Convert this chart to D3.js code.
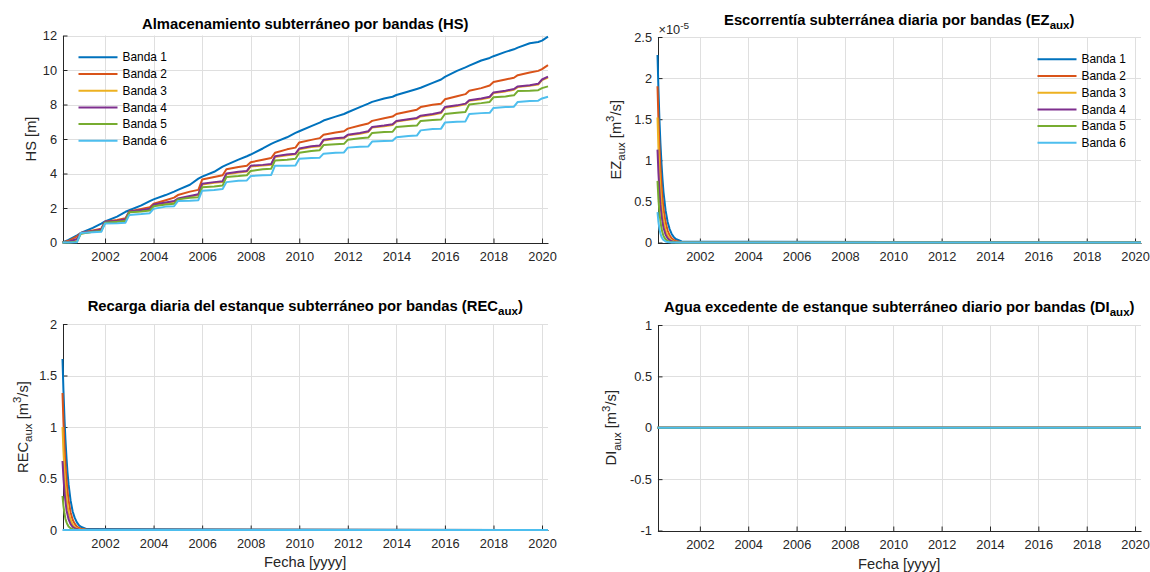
<!DOCTYPE html>
<html>
<head>
<meta charset="utf-8">
<script src="https://cdn.jsdelivr.net/npm/d3@7"></script>
<style>
  body { margin: 0; background: #fff; }
  svg { font-family: "Liberation Sans", Arial, Helvetica, sans-serif; }
</style>
</head>
<body>
<svg id="fig" width="1150" height="572"></svg>
<script>
// ---------- data ----------
const bandNames  = ["Banda 1", "Banda 2", "Banda 3", "Banda 4", "Banda 5", "Banda 6"];
const bandColors = ["#0072BD", "#D95319", "#EDB120", "#7E2F8E", "#77AC30", "#4DBEEE"];
const yearTicks  = [2002, 2004, 2006, 2008, 2010, 2012, 2014, 2016, 2018, 2020];
const periodStart = "2000-04-01";
const periodEnd   = "2020-03-31";

// Groundwater storage HS [m], sampled 1 Jan / 1 Jul / 5 Nov of each year
const hsDates = [
  "2000-04-01","2000-07-01","2000-11-05",
  "2001-01-01","2001-07-01","2001-11-05",
  "2002-01-01","2002-07-01","2002-11-05",
  "2003-01-01","2003-07-01","2003-11-05",
  "2004-01-01","2004-07-01","2004-11-05",
  "2005-01-01","2005-07-01","2005-11-05",
  "2006-01-01","2006-07-01","2006-11-05",
  "2007-01-01","2007-07-01","2007-11-05",
  "2008-01-01","2008-07-01","2008-11-05",
  "2009-01-01","2009-07-01","2009-11-05",
  "2010-01-01","2010-07-01","2010-11-05",
  "2011-01-01","2011-07-01","2011-11-05",
  "2012-01-01","2012-07-01","2012-11-05",
  "2013-01-01","2013-07-01","2013-11-05",
  "2014-01-01","2014-07-01","2014-11-05",
  "2015-01-01","2015-07-01","2015-11-05",
  "2016-01-01","2016-07-01","2016-11-05",
  "2017-01-01","2017-07-01","2017-11-05",
  "2018-01-01","2018-07-01","2018-11-05",
  "2019-01-01","2019-07-01","2019-11-05",
  "2020-01-01","2020-03-31"
];
const hsBanda1 = [0,0.15,0.42, 0.55,0.85,1.1, 1.22,1.5,1.78, 1.87,2.15,2.4, 2.5,2.75,2.95,
  3.05,3.35,3.7, 3.82,4.1,4.4, 4.5,4.8,5.0, 5.1,5.45,5.72, 5.82,6.1,6.35, 6.45,6.75,6.95,
  7.07,7.3,7.45, 7.55,7.85,8.05, 8.15,8.35,8.45, 8.55,8.75,8.9, 8.97,9.25,9.45, 9.6,9.95,10.15,
  10.25,10.55,10.7, 10.8,11.05,11.2, 11.3,11.55,11.62, 11.7,11.93];
const hsBanda2 = [0,0.1,0.35, 0.55,0.7,0.8, 1.2,1.3,1.4, 1.8,1.95,2.05, 2.25,2.45,2.6,
  2.75,2.95,3.05, 3.65,3.8,3.9, 4.25,4.38,4.45, 4.65,4.8,4.9, 5.2,5.4,5.5, 5.8,5.95,6.05,
  6.25,6.38,6.45, 6.6,6.78,6.9, 7.05,7.2,7.3, 7.45,7.6,7.7, 7.85,7.98,8.05, 8.3,8.48,8.6,
  8.8,8.95,9.1, 9.3,9.45,9.55, 9.7,9.85,9.95, 10.05,10.28];
const hsBanda3 = [0,0.04,0.18, 0.52,0.62,0.72, 1.16,1.21,1.31, 1.76,1.84,1.91, 2.16,2.28,2.36,
  2.51,2.66,2.76, 3.36,3.46,3.51, 3.96,4.06,4.11, 4.41,4.46,4.51, 4.96,5.06,5.11, 5.41,5.54,5.58,
  5.91,6.01,6.04, 6.21,6.31,6.41, 6.66,6.74,6.81, 7.01,7.11,7.18, 7.31,7.41,7.51, 7.81,7.91,8.01,
  8.21,8.31,8.41, 8.66,8.76,8.86, 9.01,9.08,9.16, 9.41,9.56];
const hsBanda4 = [0,0.05,0.2, 0.55,0.65,0.75, 1.2,1.25,1.35, 1.8,1.88,1.95, 2.2,2.32,2.4,
  2.55,2.7,2.8, 3.4,3.5,3.55, 4.0,4.1,4.15, 4.45,4.5,4.55, 5.0,5.1,5.15, 5.45,5.58,5.62,
  5.95,6.05,6.08, 6.25,6.35,6.45, 6.7,6.78,6.85, 7.05,7.15,7.22, 7.35,7.45,7.55, 7.85,7.95,8.05,
  8.25,8.35,8.45, 8.7,8.8,8.9, 9.05,9.12,9.2, 9.45,9.62];
const hsBanda5 = [0,0,0.05, 0.5,0.62,0.66, 1.15,1.2,1.25, 1.75,1.8,1.85, 2.1,2.2,2.25,
  2.5,2.6,2.62, 3.2,3.25,3.3, 3.8,3.85,3.9, 4.15,4.25,4.28, 4.75,4.8,4.85, 5.2,5.3,5.35,
  5.65,5.7,5.72, 5.95,6.05,6.08, 6.35,6.4,6.42, 6.7,6.75,6.78, 7.05,7.1,7.13, 7.45,7.52,7.57,
  8.0,8.08,8.15, 8.42,8.47,8.53, 8.78,8.8,8.83, 8.95,9.05];
const hsBanda6 = [0,0,0.02, 0.55,0.6,0.62, 1.1,1.12,1.15, 1.6,1.65,1.7, 1.95,2.08,2.1,
  2.4,2.42,2.45, 3.0,3.05,3.1, 3.5,3.58,3.6, 3.85,3.9,3.92, 4.45,4.45,4.47, 4.85,4.9,4.92,
  5.15,5.2,5.22, 5.5,5.55,5.57, 5.85,5.88,5.9, 6.1,6.18,6.2, 6.5,6.58,6.6, 6.95,7.0,7.02,
  7.45,7.5,7.52, 7.8,7.85,7.87, 8.15,8.2,8.22, 8.35,8.45];

// Daily groundwater runoff EZaux and recharge RECaux (start-up transient, then zero)
const flowDates = ["2000-04-01","2000-04-15","2000-05-01","2000-05-15","2000-06-01","2000-06-15",
  "2000-07-01","2000-08-01","2000-09-01","2000-10-01","2000-11-01","2000-12-01",
  "2001-01-01","2001-04-01","2020-03-31"];
const ezExponent = -5;   // EZ values below are in units of 1e-5 m3/s
const ezBanda1 = [2.28,1.87,1.48,1.21,0.95,0.775,0.61,0.39,0.25,0.164,0.104,0.068,0.043,0.012,0];
const ezBanda2 = [1.9,1.5,1.15,0.91,0.68,0.54,0.41,0.245,0.145,0.088,0.052,0.032,0.019,0.004,0];
const ezBanda3 = [1.52,1.16,0.86,0.66,0.47,0.36,0.265,0.147,0.081,0.046,0.025,0.014,0.008,0.001,0];
const ezBanda4 = [1.13,0.85,0.62,0.46,0.33,0.25,0.18,0.095,0.051,0.028,0.015,0.008,0.004,0.001,0];
const ezBanda5 = [0.75,0.53,0.36,0.26,0.17,0.12,0.08,0.038,0.018,0.009,0.004,0.002,0.001,0,0];
const ezBanda6 = [0.37,0.25,0.16,0.11,0.068,0.047,0.03,0.013,0.005,0.002,0.001,0,0,0,0];

const recBanda1 = [1.66,1.36,1.08,0.88,0.69,0.56,0.445,0.285,0.18,0.12,0.076,0.049,0.032,0.009,0];
const recBanda2 = [1.33,1.05,0.8,0.64,0.48,0.38,0.29,0.17,0.1,0.062,0.036,0.022,0.013,0.003,0];
const recBanda3 = [1.0,0.77,0.56,0.43,0.31,0.24,0.17,0.097,0.053,0.03,0.017,0.009,0.005,0.001,0];
const recBanda4 = [0.67,0.51,0.37,0.28,0.19,0.15,0.105,0.056,0.03,0.017,0.009,0.005,0.003,0,0];
const recBanda5 = [0.33,0.235,0.16,0.11,0.074,0.053,0.035,0.017,0.008,0.004,0.002,0.001,0,0,0];
const recBanda6 = [0,0,0,0,0,0,0,0,0,0,0,0,0,0,0];

// Daily excess water DIaux (zero over the whole period)
const diDates  = ["2000-04-01","2020-03-31"];
const diBanda1 = [0,0], diBanda2 = [0,0], diBanda3 = [0,0];
const diBanda4 = [0,0], diBanda5 = [0,0], diBanda6 = [0,0];

const hsTicks  = [0, 2, 4, 6, 8, 10, 12];
const ezTicks  = [0, 0.5, 1, 1.5, 2, 2.5];
const recTicks = [0, 0.5, 1, 1.5, 2];
const diTicks  = [-1, -0.5, 0, 0.5, 1];

// ---------- drawing ----------
const parse = d3.timeParse("%Y-%m-%d");
const svg = d3.select("#fig");
const AX = "#262626", GRID = "#dfdfdf";
const TICK_FS = 12.8, LABEL_FS = 14.7, TITLE_FS = 14.8, LEG_FS = 11.9;

function rich(textSel, parts, size) {
  let shift = 0;
  parts.forEach(([s, kind]) => {
    const target = kind === "sub" ? 0.32 * size : kind === "sup" ? -0.42 * size : 0;
    const t = textSel.append("tspan").text(s).attr("dy", target - shift);
    if (kind) t.attr("font-size", size * 0.78);
    shift = target;
  });
}

function drawPanel(p) {
  const g = svg.append("g");
  const x = d3.scaleTime().domain([parse(periodStart), parse(periodEnd)]).range([p.left, p.right]);
  const y = d3.scaleLinear().domain(p.yDomain).range([p.bottom, p.top]);
  const xTickDates = yearTicks.map(yr => new Date(yr, 0, 1));

  // grid
  const grid = g.append("g").attr("stroke", GRID).attr("stroke-width", 1);
  grid.selectAll("line.v").data(xTickDates).join("line")
    .attr("x1", d => Math.round(x(d)) + 0.5).attr("x2", d => Math.round(x(d)) + 0.5)
    .attr("y1", p.top).attr("y2", p.bottom);
  grid.selectAll("line.h").data(p.yTicks).join("line")
    .attr("y1", d => Math.round(y(d)) + 0.5).attr("y2", d => Math.round(y(d)) + 0.5)
    .attr("x1", p.left).attr("x2", p.right);

  // axes (left and bottom only, ticks pointing inward)
  const xAxis = d3.axisBottom(x).tickValues(xTickDates).tickFormat(d3.timeFormat("%Y"))
    .tickSizeInner(-4.5).tickSizeOuter(0).tickPadding(9);
  const yAxis = d3.axisLeft(y).tickValues(p.yTicks).tickFormat(p.yFmt)
    .tickSizeInner(-4.5).tickSizeOuter(0).tickPadding(6);
  const gx = g.append("g").attr("transform", `translate(0,${Math.round(p.bottom)})`).call(xAxis);
  const gy = g.append("g").attr("transform", `translate(${Math.round(p.left)},0)`).call(yAxis);
  [gx, gy].forEach(a => {
    a.attr("font-family", null).attr("font-size", TICK_FS);
    a.select(".domain").attr("stroke", AX);
    a.selectAll(".tick line").attr("stroke", AX);
    a.selectAll(".tick text").attr("fill", AX);
  });

  // series
  const line = d3.line().x(d => x(d[0])).y(d => y(d[1]));
  const dates = p.dates.map(parse);
  p.series.forEach((vals, i) => {
    g.append("path")
      .datum(vals.map((v, k) => [dates[k], v]))
      .attr("fill", "none")
      .attr("stroke", bandColors[i])
      .attr("stroke-width", 2)
      .attr("stroke-linejoin", "round")
      .attr("d", line);
  });

  // title
  const cx = (p.left + p.right) / 2;
  const title = g.append("text").attr("x", cx).attr("y", p.titleY)
    .attr("text-anchor", "middle").attr("font-weight", "bold")
    .attr("font-size", TITLE_FS).attr("fill", "#000");
  rich(title, p.title, TITLE_FS);

  // y label
  const yl = g.append("text")
    .attr("transform", `translate(${p.yLabelX},${(p.top + p.bottom) / 2}) rotate(-90)`)
    .attr("text-anchor", "middle").attr("font-size", LABEL_FS).attr("fill", AX);
  rich(yl, p.yLabel, LABEL_FS);

  // x label
  if (p.xLabel) {
    g.append("text").attr("x", cx).attr("y", p.xLabelY)
      .attr("text-anchor", "middle").attr("font-size", LABEL_FS).attr("fill", AX)
      .text(p.xLabel);
  }

  // exponent marker
  if (p.exponent !== undefined) {
    const ex = g.append("text").attr("x", p.left + 1).attr("y", p.top - 3)
      .attr("font-size", TICK_FS).attr("fill", AX);
    rich(ex, [["\u00d710", null], [String(p.exponent), "sup"]], TICK_FS);
  }

  // legend
  if (p.legend) {
    const lg = g.append("g");
    bandNames.forEach((name, i) => {
      const yy = p.legend.y + i * 16.7;
      lg.append("line").attr("x1", p.legend.x).attr("x2", p.legend.x + 39)
        .attr("y1", yy).attr("y2", yy)
        .attr("stroke", bandColors[i]).attr("stroke-width", 2);
      lg.append("text").attr("x", p.legend.x + 44).attr("y", yy).attr("dy", "0.35em")
        .attr("font-size", LEG_FS).attr("fill", "#000").text(name);
    });
  }
}

const fmtPlain = d => String(d);

drawPanel({
  left: 62.5, right: 548, top: 35.5, bottom: 242.5,
  yDomain: [0, 12], yTicks: hsTicks, yFmt: fmtPlain,
  dates: hsDates, series: [hsBanda1, hsBanda2, hsBanda3, hsBanda4, hsBanda5, hsBanda6],
  title: [["Almacenamiento subterráneo por bandas (HS)", null]], titleY: 28.5,
  yLabel: [["HS [m]", null]], yLabelX: 35.5,
  legend: { x: 78.5, y: 57.3 }
});

drawPanel({
  left: 657.5, right: 1141, top: 37, bottom: 242.5,
  yDomain: [0, 2.5], yTicks: ezTicks, yFmt: fmtPlain, exponent: ezExponent,
  dates: flowDates, series: [ezBanda1, ezBanda2, ezBanda3, ezBanda4, ezBanda5, ezBanda6],
  title: [["Escorrentía subterránea diaria por bandas (EZ", null], ["aux", "sub"], [")", null]], titleY: 24.5,
  yLabel: [["EZ", null], ["aux", "sub"], [" [m", null], ["3", "sup"], ["/s]", null]], yLabelX: 620.5,
  legend: { x: 1037.5, y: 59.3 }
});

drawPanel({
  left: 62.5, right: 548, top: 324, bottom: 530,
  yDomain: [0, 2], yTicks: recTicks, yFmt: fmtPlain,
  dates: flowDates, series: [recBanda1, recBanda2, recBanda3, recBanda4, recBanda5, recBanda6],
  title: [["Recarga diaria del estanque subterráneo por bandas (REC", null], ["aux", "sub"], [")", null]], titleY: 310.5,
  yLabel: [["REC", null], ["aux", "sub"], [" [m", null], ["3", "sup"], ["/s]", null]], yLabelX: 27.5,
  xLabel: "Fecha [yyyy]", xLabelY: 567
});

drawPanel({
  left: 657.5, right: 1141, top: 325, bottom: 530.5,
  yDomain: [-1, 1], yTicks: diTicks, yFmt: fmtPlain,
  dates: diDates, series: [diBanda1, diBanda2, diBanda3, diBanda4, diBanda5, diBanda6],
  title: [["Agua excedente de estanque subterráneo diario por bandas (DI", null], ["aux", "sub"], [")", null]], titleY: 311.5,
  yLabel: [["DI", null], ["aux", "sub"], [" [m", null], ["3", "sup"], ["/s]", null]], yLabelX: 616,
  xLabel: "Fecha [yyyy]", xLabelY: 569
});
</script>
</body>
</html>
